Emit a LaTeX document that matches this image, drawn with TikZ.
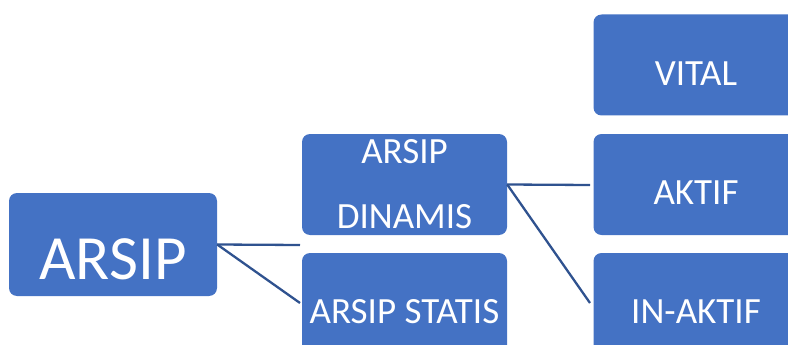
\documentclass[tikz,border=0pt]{standalone}
\usepackage{fontspec}
\setmainfont{Carlito}
\definecolor{kotakbiru}{HTML}{4472C4}
\definecolor{garisbiru}{HTML}{2F528F}
\tikzset{
  kotak/.style={rectangle, rounded corners=8pt, fill=kotakbiru, text=white,
    minimum width=205pt, minimum height=101pt, inner sep=0pt,
    font=\fontsize{37}{65}\selectfont, text height=40pt, text depth=0pt},
  garis/.style={draw=garisbiru, line width=2.3pt}
}
\begin{document}
\begin{tikzpicture}[x=1pt, y=-1pt]
            \useasboundingbox (0,0) rectangle (788,345);
            \clip (0,0) rectangle (788,345);
            \node [kotak, minimum width=208pt, minimum height=103pt,
              font=\fontsize{63}{70}\selectfont, text height=70pt] (arsip) at (113,244.5) {ARSIP};
            \node [kotak, align=center, text height=, text depth=] (dinamis) at (404.5,184.5) {ARSIP\\DINAMIS};
            \node [kotak] (statis) at (404.5,303.5) {ARSIP STATIS};
            \node [kotak] (vital) at (696,65) {VITAL};
            \node [kotak] (aktif) at (696,184.5) {AKTIF};
            \node [kotak] (inaktif) at (696,303.5) {IN-AKTIF};
            \coordinate (ujung1) at (300,245);
            \coordinate (ujung2) at (300,303);
            \coordinate (ujung3) at (590,185);
            \coordinate (ujung4) at (590,303);
            \path (arsip.east) edge [garis] (ujung1);
            \path (arsip.east) edge [garis] (ujung2);
            \path (dinamis.east) edge [garis] (ujung3);
            \path (dinamis.east) edge [garis] (ujung4);
        \end{tikzpicture}
\end{document}
